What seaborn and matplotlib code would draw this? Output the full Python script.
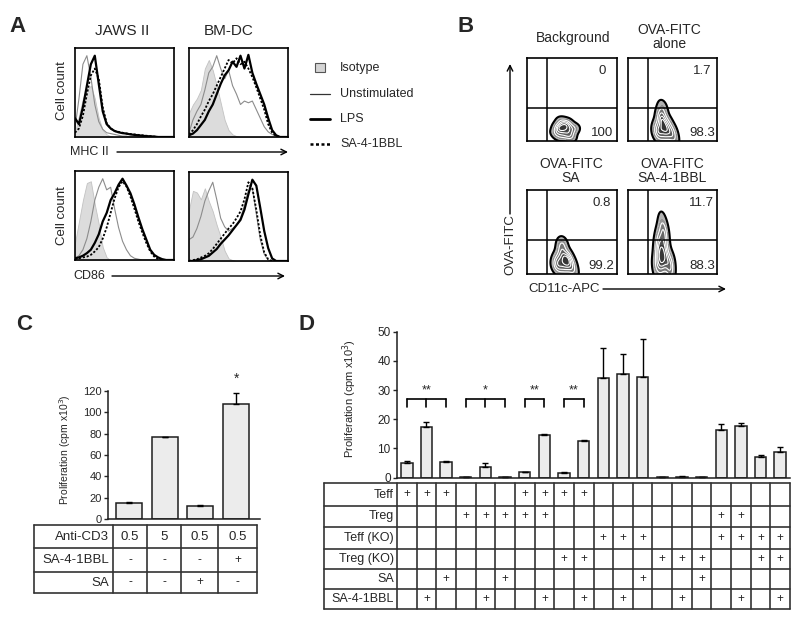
import seaborn as sns
import matplotlib.pyplot as plt
from matplotlib.colors import LinearSegmentedColormap

sns.set_style('white')
plt.rcParams['font.family'] = ['Liberation Sans', 'DejaVu Sans']

W, H = 800, 617

# ---------------- A: flow histograms (fraction of max) ----------------
hist_x = list(range(0, 101, 4))

jaws_mhc_iso = [0.05, 0.25, 0.45, 0.55, 0.6, 0.45, 0.22, 0.08, 0.03, 0.01]
jaws_mhc_uns = [0.1, 0.45, 0.85, 0.95, 0.7, 0.38, 0.18, 0.09, 0.05, 0.04, 0.03, 0.02, 0.01, 0.01]
jaws_mhc_lps = [0.22, 0.15, 0.35, 0.6, 0.85, 0.95, 0.62, 0.3, 0.15, 0.1, 0.07, 0.055, 0.045, 0.04,
                0.03, 0.025, 0.02, 0.015, 0.01, 0.008, 0.005]
jaws_mhc_sa = [0.05, 0.1, 0.25, 0.5, 0.72, 0.8, 0.68, 0.35, 0.16, 0.1, 0.07, 0.06, 0.05, 0.04,
               0.035, 0.03, 0.025, 0.02, 0.015, 0.01, 0.005]

bm_mhc_iso = [0.28, 0.38, 0.45, 0.55, 0.8, 0.9, 0.78, 0.6, 0.4, 0.2, 0.08, 0.03, 0.01]
bm_mhc_uns = [0.05, 0.2, 0.3, 0.38, 0.55, 0.75, 0.82, 0.95, 0.8, 0.68, 0.78, 0.6, 0.5, 0.38,
              0.42, 0.4, 0.42, 0.32, 0.22, 0.12, 0.06, 0.03, 0.01]
bm_mhc_lps = [0.02, 0.04, 0.08, 0.14, 0.2, 0.3, 0.38, 0.5, 0.62, 0.72, 0.78, 0.88, 0.82, 0.95,
              0.8, 0.96, 0.75, 0.62, 0.5, 0.38, 0.22, 0.08, 0.02]
bm_mhc_sa = [0.03, 0.08, 0.15, 0.24, 0.32, 0.42, 0.5, 0.6, 0.7, 0.8, 0.9, 0.86, 0.92, 0.85,
             0.88, 0.8, 0.7, 0.58, 0.45, 0.32, 0.15, 0.05, 0.01]

jaws_cd86_iso = [0.2, 0.45, 0.7, 0.9, 0.92, 0.65, 0.42, 0.15, 0.03]
jaws_cd86_uns = [0.02, 0.05, 0.12, 0.25, 0.45, 0.7, 0.85, 0.95, 0.82, 0.85, 0.6, 0.38, 0.22,
                 0.12, 0.05, 0.02, 0.01]
jaws_cd86_lps = [0.02, 0.03, 0.05, 0.08, 0.12, 0.2, 0.3, 0.45, 0.55, 0.7, 0.78, 0.88, 0.95, 0.87,
                 0.78, 0.65, 0.5, 0.36, 0.24, 0.12, 0.06, 0.03, 0.01]
jaws_cd86_sa = [0.01, 0.02, 0.03, 0.04, 0.06, 0.1, 0.15, 0.25, 0.38, 0.55, 0.72, 0.85, 0.92, 0.86,
                0.74, 0.6, 0.45, 0.32, 0.2, 0.1, 0.04, 0.01]

bm_cd86_iso = [0.6, 0.82, 0.8, 0.72, 0.85, 0.7, 0.58, 0.42, 0.28, 0.12, 0.03, 0.01]
bm_cd86_uns = [0.25, 0.28, 0.38, 0.52, 0.7, 0.82, 0.92, 0.72, 0.5, 0.4, 0.35, 0.38, 0.42, 0.5,
               0.65, 0.82, 0.85, 0.55, 0.25, 0.08, 0.01]
bm_cd86_lps = [0, 0, 0.01, 0.02, 0.04, 0.06, 0.1, 0.14, 0.2, 0.25, 0.3, 0.36, 0.42, 0.48, 0.6,
               0.78, 0.95, 0.88, 0.62, 0.35, 0.15, 0.03]
bm_cd86_sa = [0, 0.01, 0.02, 0.04, 0.06, 0.09, 0.14, 0.2, 0.26, 0.32, 0.38, 0.43, 0.5, 0.58,
              0.72, 0.92, 0.85, 0.6, 0.3, 0.1, 0.02]

legend_a = ['Isotype', 'Unstimulated', 'LPS', 'SA-4-1BBL']

# ---------------- B: OVA-FITC uptake, estimated event positions ----------------
b_titles = ['Background', 'OVA-FITC\nalone', 'OVA-FITC\nSA', 'OVA-FITC\nSA-4-1BBL']
b_upper = ['0', '1.7', '0.8', '11.7']
b_lower = ['100', '98.3', '99.2', '88.3']
bg_x = [32, 35, 38, 41, 44, 47, 50, 53, 36, 40, 45, 49, 34, 42, 38, 46]
bg_y = [10, 18, 24, 20, 14, 8, 12, 16, 6, 12, 22, 4, 14, 6, 16, 18]
alone_x = [32, 35, 38, 41, 44, 47, 50, 36, 40, 45, 34, 42, 38, 39, 37, 52]
alone_y = [10, 18, 24, 20, 14, 8, 12, 6, 12, 22, 14, 6, 32, 40, 28, 3]
sa_x = [32, 35, 38, 41, 44, 47, 50, 36, 40, 45, 34, 42, 38, 40, 52, 46]
sa_y = [10, 18, 24, 20, 14, 8, 12, 6, 12, 22, 14, 6, 32, 36, 3, 18]
sa41_x = [31, 34, 37, 40, 43, 46, 49, 35, 39, 44, 33, 41, 36, 40, 38, 42, 35, 39, 48, 37]
sa41_y = [10, 18, 24, 20, 14, 8, 12, 6, 12, 22, 30, 36, 44, 52, 60, 46, 38, 30, 4, 16]

# ---------------- C ----------------
c_anti_cd3 = ['0.5', '5', '0.5', '0.5']
c_sa41bbl = ['-', '-', '-', '+']
c_sa = ['-', '-', '+', '-']
c_vals = [15.5, 76.5, 12.4, 107.6]
c_sem = [0.7, 0.7, 0.6, 10.4]

# ---------------- D ----------------
d_vals = [5.1, 17.3, 5.3, 0.3, 3.8, 0.2, 1.8, 14.7, 1.7, 12.7,
          34.2, 35.6, 34.6, 0.3, 0.4, 0.3, 16.3, 17.7, 7.0, 8.7]
d_sem = [0.6, 1.8, 0.3, 0.1, 1.2, 0.1, 0.1, 0.2, 0.3, 0.2,
         10.3, 6.7, 13.0, 0.1, 0.1, 0.1, 2.1, 1.0, 0.8, 1.8]
d_rows = ['Teff', 'Treg', 'Teff (KO)', 'Treg (KO)', 'SA', 'SA-4-1BBL']
d_teff = [1, 2, 3, 7, 8, 9, 10]
d_treg = [4, 5, 6, 7, 8, 17, 18]
d_teff_ko = [11, 12, 13, 17, 18, 19, 20]
d_treg_ko = [9, 10, 14, 15, 16, 19, 20]
d_sa = [3, 6, 13, 16]
d_sa41bbl = [2, 5, 8, 10, 12, 15, 18, 20]
d_sig_groups = [[1, 2, 3], [4, 5, 6], [7, 8], [9, 10]]
d_sig_marks = ['**', '*', '**', '**']

# ================= drawing =================
fig = plt.figure(figsize=(8, 6.17), dpi=100)
ov = fig.add_axes([0, 0, 1, 1])
ov.set_xlim(0, W)
ov.set_ylim(H, 0)
ov.axis('off')


def box(x0, y0, x1, y1):
    return fig.add_axes([x0 / W, 1 - y1 / H, (x1 - x0) / W, (y1 - y0) / H])


def pad(v):
    return v + [0] * (len(hist_x) - len(v))


def frame(ax, lw=1.2):
    for s in ax.spines.values():
        s.set_visible(True)
        s.set_color('black')
        s.set_linewidth(lw)
    ax.set_xticks([])
    ax.set_yticks([])
    ax.set_xlabel('')
    ax.set_ylabel('')


def draw_hist(ax, iso, uns, lps, sa):
    ax.fill_between(hist_x, pad(iso), color='#dcdcdc', edgecolor='#c2c2c2', lw=0.6)
    sns.lineplot(x=hist_x, y=pad(uns), ax=ax, color='#8c8c8c', lw=0.8)
    sns.lineplot(x=hist_x, y=pad(lps), ax=ax, color='black', lw=1.6)
    sns.lineplot(x=hist_x, y=pad(sa), ax=ax, color='black', lw=1.3, ls=(0, (1.2, 1.0)))
    ax.set(xlim=(0, 100), ylim=(0, 1.04))
    frame(ax)


# panel letters
for letter, (px, py) in zip('ABCD', [(17, 26), (466, 26), (24, 325), (307, 325)]):
    ov.text(px, py, letter, fontsize=16, fontweight='bold', ha='center', va='center')

# ---- A ----
ov.text(122, 31, 'JAWS II', fontsize=11, ha='center', va='center')
ov.text(229, 31, 'BM-DC', fontsize=11, ha='center', va='center')
draw_hist(box(75, 48, 174, 137), jaws_mhc_iso, jaws_mhc_uns, jaws_mhc_lps, jaws_mhc_sa)
draw_hist(box(189, 48, 288, 137), bm_mhc_iso, bm_mhc_uns, bm_mhc_lps, bm_mhc_sa)
draw_hist(box(75, 171, 174, 260), jaws_cd86_iso, jaws_cd86_uns, jaws_cd86_lps, jaws_cd86_sa)
draw_hist(box(189, 172, 288, 261), bm_cd86_iso, bm_cd86_uns, bm_cd86_lps, bm_cd86_sa)
ov.text(62, 91, 'Cell count', fontsize=9.5, rotation=90, ha='center', va='center')
ov.text(62, 216, 'Cell count', fontsize=9.5, rotation=90, ha='center', va='center')
ov.text(70, 152, 'MHC II', fontsize=9, ha='left', va='center')
ov.annotate('', xy=(288, 152), xytext=(117, 152),
            arrowprops=dict(arrowstyle='->', lw=1, color='black', shrinkA=0, shrinkB=0))
ov.text(73, 276, 'CD86', fontsize=9, ha='left', va='center')
ov.annotate('', xy=(285, 276), xytext=(112, 276),
            arrowprops=dict(arrowstyle='->', lw=1, color='black', shrinkA=0, shrinkB=0))

# legend
ov.add_patch(plt.Rectangle((315, 63), 10, 9, facecolor='#d4d4d4', edgecolor='#555', lw=0.8))
ov.plot([310, 330], [94, 94], color='#333', lw=0.9)
ov.plot([310, 330], [119, 119], color='black', lw=2)
ov.plot([310, 330], [144, 144], color='black', lw=1.8, ls=(0, (1.2, 1.0)))
for lab, ly in zip(legend_a, [68, 94, 119, 144]):
    ov.text(340, ly, lab, fontsize=9, ha='left', va='center')

# ---- B ----
flow_grey = LinearSegmentedColormap.from_list('flow_grey', ['#c4c4c4', '#2a2a2a'])
b_boxes = [(527, 58, 617, 141), (628, 58, 717, 141), (527, 190, 617, 274), (628, 190, 717, 274)]
b_title_pos = [(573, 38), (669, 37), (571, 171), (672, 171)]
b_pts = [(bg_x, bg_y), (alone_x, alone_y), (sa_x, sa_y), (sa41_x, sa41_y)]
for (x0, y0, x1, y1), (tx, ty), (px, py), up, lo, title in zip(
        b_boxes, b_title_pos, b_pts, b_upper, b_lower, b_titles):
    ax = box(x0, y0, x1, y1)
    sns.kdeplot(x=px, y=py, ax=ax, fill=True, levels=7, thresh=0.05, cmap=flow_grey)
    sns.kdeplot(x=px, y=py, ax=ax, levels=[0.05], color='black', linewidths=1.5)
    sns.kdeplot(x=px, y=py, ax=ax, levels=[0.3, 0.5, 0.7, 0.88], color='white',
                linewidths=0.8)
    ax.axvline(22, color='black', lw=1.1)
    ax.axhline(40, color='black', lw=1.1)
    ax.set(xlim=(0, 100), ylim=(0, 100))
    frame(ax)
    ax.text(0.83, 0.84, up, transform=ax.transAxes, fontsize=9.5, ha='center', va='center')
    ax.text(0.83, 0.10, lo, transform=ax.transAxes, fontsize=9.5, ha='center', va='center')
    ov.text(tx, ty, title, fontsize=10, ha='center', va='center', linespacing=1.05)

ov.annotate('', xy=(510, 64), xytext=(510, 214),
            arrowprops=dict(arrowstyle='->', lw=1, color='black', shrinkA=0, shrinkB=0))
ov.text(510, 245, 'OVA-FITC', fontsize=9.5, rotation=90, ha='center', va='center')
ov.text(528, 289, 'CD11c-APC', fontsize=9.5, ha='left', va='center')
ov.annotate('', xy=(726, 289), xytext=(603, 289),
            arrowprops=dict(arrowstyle='->', lw=1, color='black', shrinkA=0, shrinkB=0))

# ---- C ----
axc = box(108, 390.7, 260, 519.3)
sns.barplot(x=list(range(4)), y=c_vals, ax=axc, color='#ececec', saturation=1,
            edgecolor='#1e1e1e', linewidth=1.1, width=0.73)
axc.errorbar(range(4), c_vals, yerr=[[0] * 4, c_sem], fmt='none', ecolor='black',
             elinewidth=1, capsize=2.5, capthick=1)
axc.set(xlim=(-0.59, 3.67), ylim=(0, 120), xticks=[], yticks=range(0, 121, 20),
        xlabel='', ylabel='')
sns.despine(ax=axc)
for s in ['left', 'bottom']:
    axc.spines[s].set_color('#1e1e1e')
    axc.spines[s].set_linewidth(1.1)
axc.tick_params(axis='y', left=True, length=3, width=1, pad=1.5, labelsize=8)
axc.text(3, 131.5, '*', fontsize=10, ha='center', va='center', clip_on=False)
ov.text(65, 450, 'Proliferation (cpm x10$^3$)', fontsize=7.5, rotation=90,
        ha='center', va='center')

# C table
c_cols = [34, 113, 147, 181, 218, 257]
c_rows = [525, 548, 572, 593]
for yy in c_rows:
    ov.plot([c_cols[0], c_cols[-1]], [yy, yy], color='#333', lw=1.2)
for xx in c_cols:
    ov.plot([xx, xx], [c_rows[0], c_rows[-1]], color='#333', lw=1.2)
for r, (lab, vals) in enumerate(zip(['Anti-CD3', 'SA-4-1BBL', 'SA'],
                                    [c_anti_cd3, c_sa41bbl, c_sa])):
    yc = (c_rows[r] + c_rows[r + 1]) / 2
    ov.text(c_cols[1] - 4, yc, lab, fontsize=9.5, ha='right', va='center')
    for k, v in enumerate(vals):
        ov.text((c_cols[k + 1] + c_cols[k + 2]) / 2, yc, v,
                fontsize=9.5 if r == 0 else 8.5, ha='center', va='center')

# ---- D ----
d_x0, d_x1 = 397, 790
axd = box(d_x0, 331.7, d_x1, 477.7)
n = len(d_vals)
sns.barplot(x=list(range(n)), y=d_vals, ax=axd, color='#ececec', saturation=1,
            edgecolor='#1e1e1e', linewidth=1.1, width=0.58)
axd.errorbar(range(n), d_vals, yerr=[[0] * n, d_sem], fmt='none', ecolor='black',
             elinewidth=1, capsize=2, capthick=1)
axd.set(xlim=(-0.5, n - 0.5), ylim=(0, 50), xticks=[], yticks=range(0, 51, 10),
        xlabel='', ylabel='')
sns.despine(ax=axd)
for s in ['left', 'bottom']:
    axd.spines[s].set_color('#1e1e1e')
    axd.spines[s].set_linewidth(1.1)
axd.tick_params(axis='y', left=True, length=3, width=1, pad=1.5, labelsize=8.5)
for grp, mark in zip(d_sig_groups, d_sig_marks):
    xs = [g - 1 for g in grp]
    axd.plot([xs[0], xs[-1]], [26.8, 26.8], color='black', lw=1.2)
    for xv in xs:
        axd.plot([xv, xv], [24.3, 26.8], color='black', lw=1.2)
    axd.text((xs[0] + xs[-1]) / 2, 30.0, mark, fontsize=9, ha='center', va='center')
ov.text(350, 399, 'Proliferation (cpm x10$^3$)', fontsize=8, rotation=90,
        ha='center', va='center')

# D table
d_tab_left = 324
cw = (d_x1 - d_x0) / n
d_row_y = [483, 506, 527, 549, 569, 589, 609]
for yy in d_row_y:
    ov.plot([d_tab_left, d_x1], [yy, yy], color='#333', lw=1.2)
for xx in [d_tab_left] + [d_x0 + k * cw for k in range(n + 1)]:
    ov.plot([xx, xx], [d_row_y[0], d_row_y[-1]], color='#333', lw=1.2)
for r, (lab, cols) in enumerate(zip(d_rows, [d_teff, d_treg, d_teff_ko, d_treg_ko,
                                             d_sa, d_sa41bbl])):
    yc = (d_row_y[r] + d_row_y[r + 1]) / 2
    ov.text(d_x0 - 3, yc, lab, fontsize=9, ha='right', va='center')
    for c in cols:
        ov.text(d_x0 + (c - 0.5) * cw, yc, '+', fontsize=8.5, ha='center', va='center')

fig.savefig('out.png', dpi=100)
